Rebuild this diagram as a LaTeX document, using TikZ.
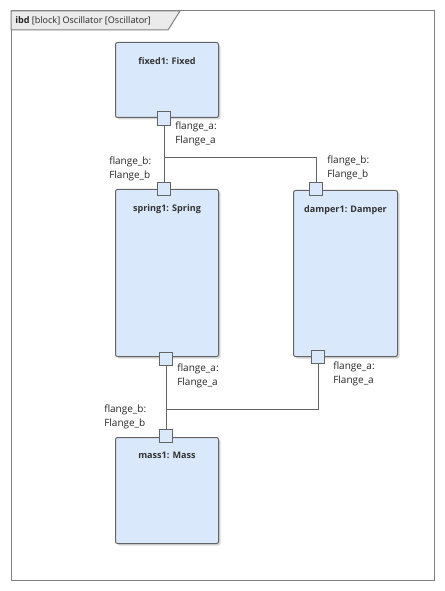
\documentclass[tikz,border=0pt]{standalone}
\usepackage{fontspec}
\setmainfont{Open Sans}
\usetikzlibrary{shadows}
\definecolor{blockfill}{RGB}{218,232,252}
\definecolor{blockline}{RGB}{100,100,100}
\definecolor{tabfill}{RGB}{235,235,235}
\tikzset{
  block/.style={rectangle, draw=blockline, fill=blockfill, rounded corners=1.5pt,
    line width=0.75pt, anchor=north west, inner sep=0pt,
    drop shadow={shadow xshift=1.5pt, shadow yshift=-1.5pt, fill=black!30}},
  title/.style={font=\fontsize{6.8}{9}\selectfont\bfseries, text=black!80},
  port/.style={rectangle, draw=blockline, fill=blockfill, line width=0.75pt,
    minimum size=10pt, inner sep=0pt},
  plabel/.style={font=\fontsize{7.5}{10.5}\selectfont, text=black!85, inner sep=0pt},
  ftext/.style={font=\fontsize{6.8}{9}\selectfont, text=black!85, inner sep=0pt},
  wire/.style={draw=blockline, line width=0.75pt}
}
\begin{document}
\begin{tikzpicture}[x=0.75pt, y=-0.75pt]
    \useasboundingbox (0,0) rectangle (444,591);
    % frame
    \draw[draw=black!50, line width=0.75pt] (11,11) rectangle (434,580);
    \draw[draw=black!50, fill=tabfill, line width=0.75pt] (11,11) -- (180,11) -- (168,30) -- (11,30) -- cycle;
    \node[ftext, anchor=west] (frame) at (15,20.5) {\textbf{ibd} [block] Oscillator [Oscillator]};
    % blocks
    \node[block, minimum width=77.25pt, minimum height=56.25pt,
      label={[title, below=8pt]north:{fixed1: Fixed}}] (fixed) at (115,42) {};
    \node[block, minimum width=77.25pt, minimum height=125.25pt,
      label={[title, below=8pt]north:{spring1: Spring}}] (spring) at (115,189) {};
    \node[block, minimum width=78pt, minimum height=124.5pt,
      label={[title, below=8pt]north:{damper1: Damper}}] (damper) at (293,190) {};
    \node[block, minimum width=77.25pt, minimum height=79.5pt,
      label={[title, below=8pt]north:{mass1: Mass}}] (mass) at (115,437) {};
    % ports
    \node[port] (fa) at (164,118.5) {};
    \node[port] (sb) at (164,189) {};
    \node[port] (sa) at (166,359) {};
    \node[port] (db) at (316,189) {};
    \node[port] (da) at (318,357) {};
    \node[port] (mb) at (166,436) {};
    % port labels
    \node[plabel, anchor=north west, align=left] (lfa) at (175,122) {flange\_a:\\Flange\_a};
    \node[plabel, anchor=north west, align=left] (lsb) at (109,157) {flange\_b:\\Flange\_b};
    \node[plabel, anchor=north west, align=left] (lsa) at (177,364) {flange\_a:\\Flange\_a};
    \node[plabel, anchor=north west, align=left] (ldb) at (327,156) {flange\_b:\\Flange\_b};
    \node[plabel, anchor=north west, align=left] (lda) at (333,362) {flange\_a:\\Flange\_a};
    \node[plabel, anchor=north west, align=left] (lmb) at (104,405) {flange\_b:\\Flange\_b};
    % connectors
    \coordinate (j1) at (164,158);
    \coordinate (j2) at (166,409);
    \draw[wire] (fa.south) -- (sb.north);
    \draw[wire] (j1) -| (db.north);
    \draw[wire] (sa.south) -- (mb.north);
    \draw[wire] (j2) -| (da.south);
\end{tikzpicture}
\end{document}
